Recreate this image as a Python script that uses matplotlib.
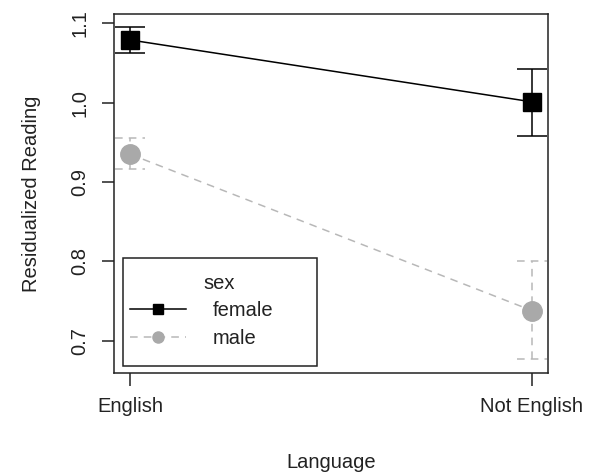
import matplotlib.pyplot as plt
import numpy as np
from matplotlib.lines import Line2D
from matplotlib.patches import Rectangle

plt.rcParams['font.family'] = ['Liberation Sans', 'DejaVu Sans']

# data
languages = ["English", "Not English"]
female_mean = [1.079, 1.001]
female_lo = [1.063, 0.958]
female_hi = [1.095, 1.042]
male_mean = [0.935, 0.738]
male_lo = [0.916, 0.677]
male_hi = [0.956, 0.800]

x = np.arange(1, len(languages) + 1)
cap = 0.038
black = "black"
grey_line = "#b8b8b8"
grey_fill = "#a9a9a9"
ink = "#222222"

fig = plt.figure(figsize=(5.95, 4.73), dpi=100)
ax = fig.add_axes([0.1916, 0.2114, 0.7294, 0.759])

# female: solid black, squares
ax.vlines(x, female_lo, female_hi, color=black, lw=1.1, zorder=2)
ax.hlines(female_lo, x - cap, x + cap, color=black, lw=1.1, zorder=2)
ax.hlines(female_hi, x - cap, x + cap, color=black, lw=1.1, zorder=2)
ax.plot(x, female_mean, color=black, lw=1.1, marker="s", ms=13,
        mfc=black, mec=black, zorder=3)

# male: dashed grey, circles
dash = (0, (5, 4))
ax.vlines(x, male_lo, male_hi, color=grey_line, lw=1.1, linestyles=[dash], zorder=2)
ax.hlines(male_lo, x - cap, x + cap, color=grey_line, lw=1.1, linestyles=[dash], zorder=2)
ax.hlines(male_hi, x - cap, x + cap, color=grey_line, lw=1.1, linestyles=[dash], zorder=2)
ax.plot(x, male_mean, color=grey_line, lw=1.1, ls=dash, marker="o", ms=14,
        mfc=grey_fill, mec=grey_fill, zorder=3)

ax.set_xlim(0.96, 2.04)
ax.set_ylim(0.6593, 1.1117)
ax.set_xticks(x)
ax.set_xticklabels(languages)
ax.set_yticks([0.7, 0.8, 0.9, 1.0, 1.1])
ax.set_yticklabels(["0.7", "0.8", "0.9", "1.0", "1.1"], rotation=90, va="center")
ax.tick_params(axis="both", labelsize=14.5, length=9, width=1.1, color=ink,
               labelcolor=ink)
ax.tick_params(axis="x", pad=8)
ax.tick_params(axis="y", pad=9)
for s in ax.spines.values():
    s.set_linewidth(1.1)
    s.set_color(ink)

ax.set_xlabel("Language", fontsize=14.5, color=ink, labelpad=27)
ax.set_ylabel("Residualized Reading", fontsize=14.5, color=ink, labelpad=21)

# legend: frame drawn as a box, contents from ax.legend
ax.add_patch(Rectangle((0.020, 0.0195), 0.447, 0.30, transform=ax.transAxes,
                       fill=False, lw=1.1, ec=ink, zorder=4))
handles = [
    Line2D([], [], color=black, lw=1.1, marker="s", ms=7, mfc=black),
    Line2D([], [], color=grey_line, lw=1.1, ls=dash, marker="o", ms=8,
           mfc=grey_fill, mec=grey_fill),
]
leg = ax.legend(handles, ["female", "male"], title="sex", fontsize=14.5,
                title_fontsize=14.5, loc="upper left",
                bbox_to_anchor=(0.0369, 0.276, 0.413, 0), mode="expand",
                handlelength=2.78, handletextpad=1.33, borderpad=0,
                labelspacing=0.42, borderaxespad=0, frameon=False)
for t in leg.get_texts():
    t.set_color(ink)
leg.get_title().set_color(ink)

fig.savefig("out.png", dpi=100)
